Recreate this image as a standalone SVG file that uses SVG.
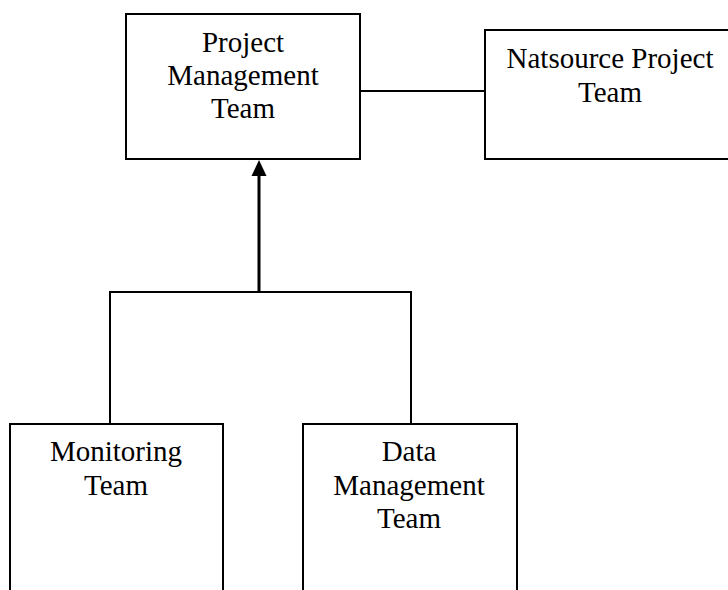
<svg xmlns="http://www.w3.org/2000/svg" width="728" height="590" viewBox="0 0 728 590">
<style>
.box{fill:#fff;stroke:#000;stroke-width:2}
.lbl{font-family:"Liberation Serif","Times New Roman",serif;font-size:29px;fill:#000;text-anchor:middle}
.con{fill:none;stroke:#000;stroke-width:2}
</style>
<defs>
<marker id="arr" markerUnits="userSpaceOnUse" markerWidth="16" markerHeight="16" refX="4" refY="8" orient="auto" viewBox="0 0 16 16">
<polygon points="0,0.5 16,8 0,15.5" fill="#000"/>
</marker>
</defs>
<rect width="728" height="590" fill="#fff"/>
<g id="connectors">
<line class="con" x1="360" y1="91" x2="485" y2="91"/>
<line class="con" x1="110" y1="292" x2="411" y2="292"/>
<line class="con" x1="110" y1="291" x2="110" y2="424"/>
<line class="con" x1="411" y1="291" x2="411" y2="424"/>
<line x1="259" y1="293" x2="259" y2="172" stroke="#000" stroke-width="3" marker-end="url(#arr)"/>
</g>
<g id="project-management">
<rect class="box" x="126" y="14" width="234" height="145"/>
<text class="lbl" x="243" y="52">Project</text>
<text class="lbl" x="243" y="85">Management</text>
<text class="lbl" x="243" y="118">Team</text>
</g>
<g id="natsource">
<rect class="box" x="485" y="30" width="260" height="129"/>
<text class="lbl" x="610" y="68">Natsource Project</text>
<text class="lbl" x="610" y="102">Team</text>
</g>
<g id="monitoring">
<rect class="box" x="10" y="424" width="213" height="180"/>
<text class="lbl" x="116" y="461">Monitoring</text>
<text class="lbl" x="116" y="495">Team</text>
</g>
<g id="data-management">
<rect class="box" x="303" y="424" width="214" height="180"/>
<text class="lbl" x="409" y="461">Data</text>
<text class="lbl" x="409" y="495">Management</text>
<text class="lbl" x="409" y="528">Team</text>
</g>
</svg>
